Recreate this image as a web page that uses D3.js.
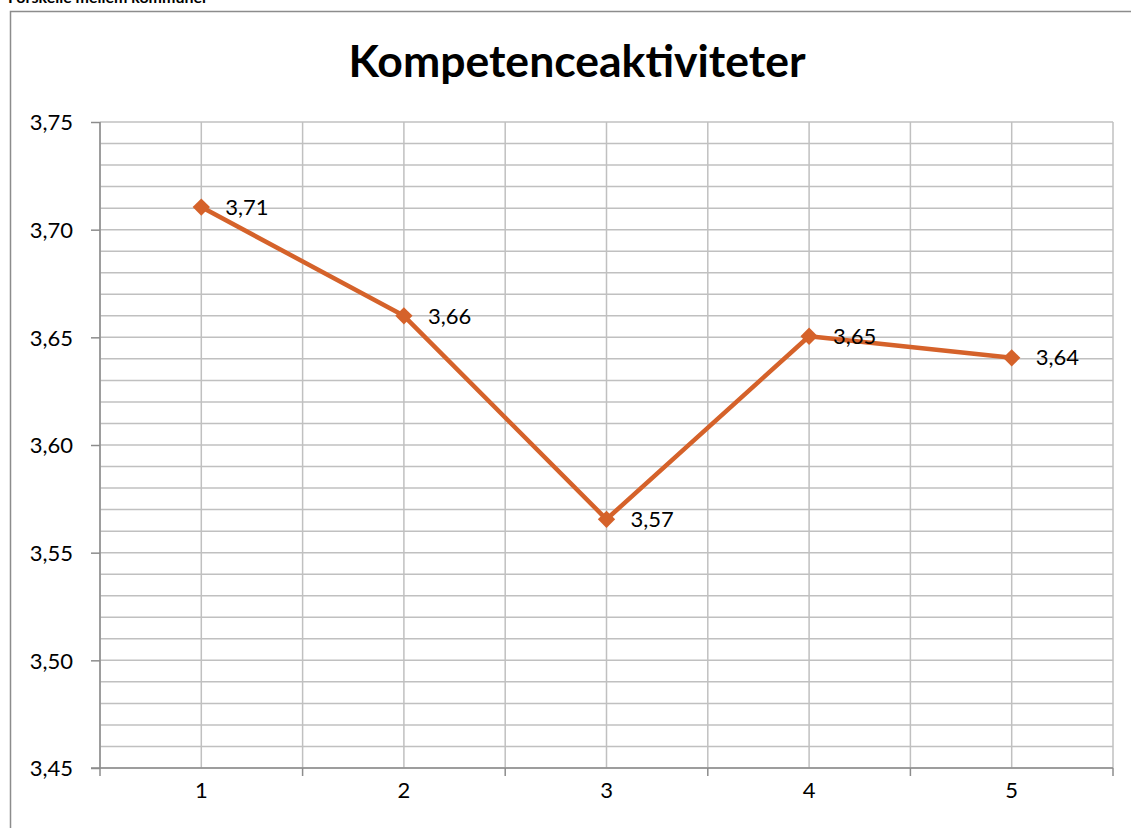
<!DOCTYPE html>
<html>
<head>
<meta charset="utf-8">
<script src="https://cdn.jsdelivr.net/npm/d3@7"></script>
<style>
  body { margin: 0; background: #fff; }
  text { font-family: Lato, "Open Sans", sans-serif; fill: #000; }
</style>
</head>
<body>
<div id="chart"></div>
<script>
// data
var categories = [1, 2, 3, 4, 5];
var values = [3.7105, 3.66, 3.5655, 3.6505, 3.6405];
var valueLabels = ["3,71", "3,66", "3,57", "3,65", "3,64"];
var yTicks = [3.45, 3.50, 3.55, 3.60, 3.65, 3.70, 3.75];

var w = 1131;
var h = 828;
var padLeft = 100, padRight = 1113, padTop = 122, padBottom = 768;

var svg = d3.select("#chart")
            .append("svg")
            .attr("width", w)
            .attr("height", h);

// chart frame (runs off the right and bottom edges)
svg.append("rect")
    .attr("x", 10.5)
    .attr("y", 11.5)
    .attr("width", 1140)
    .attr("height", 840)
    .attr("fill", "#fff")
    .attr("stroke", "#8c8c8c")
    .attr("stroke-width", 1.5);

// clipped heading above the chart
svg.append("text")
    .attr("x", 8)
    .attr("y", 3)
    .attr("font-size", 16)
    .attr("font-weight", "bold")
    .text("Forskelle mellem kommuner");

svg.append("text")
    .attr("x", 577)
    .attr("y", 77)
    .attr("text-anchor", "middle")
    .attr("font-size", 44.5)
    .attr("font-weight", "bold")
    .text("Kompetenceaktiviteter");

var xband = d3.scaleBand()
                .domain(categories)
                .range([padLeft, padRight]);

var yscale = d3.scaleLinear()
                .domain([3.45, 3.75])
                .range([padBottom, padTop]);

var xcenter = function(d) { return xband(d) + xband.bandwidth() / 2; };

// minor horizontal grid every 0.01
var minor = d3.range(0, 31).map(function(i) { return 3.45 + i * 0.01; });
svg.append("g")
    .selectAll("line")
    .data(minor)
    .enter()
    .append("line")
    .attr("x1", padLeft)
    .attr("x2", padRight)
    .attr("y1", function(d) { return yscale(d); })
    .attr("y2", function(d) { return yscale(d); })
    .attr("stroke", "#c0c0c0")
    .attr("stroke-width", 1.5);

// vertical grid at category centres and boundaries
var vlines = categories.map(xcenter)
                .concat(categories.map(function(d) { return xband(d); }))
                .concat([padRight]);
svg.append("g")
    .selectAll("line")
    .data(vlines)
    .enter()
    .append("line")
    .attr("x1", function(d) { return d; })
    .attr("x2", function(d) { return d; })
    .attr("y1", padTop)
    .attr("y2", padBottom)
    .attr("stroke", "#c0c0c0")
    .attr("stroke-width", 1.5);

var yaxis = d3.axisLeft(yscale)
                .tickValues(yTicks)
                .tickSize(9)
                .tickPadding(18)
                .tickFormat(function(d) { return d3.format(".2f")(d).replace(".", ","); });

var gy = svg.append("g")
    .attr("transform", "translate(" + padLeft + ",0)")
    .call(yaxis);
gy.select(".domain").remove();
gy.append("line")
    .attr("x1", 0).attr("x2", 0)
    .attr("y1", padTop).attr("y2", padBottom)
    .attr("stroke", "#8c8c8c")
    .attr("stroke-width", 1.5);

var xaxis = d3.axisBottom(xband).tickSize(0).tickPadding(10);
var gx = svg.append("g")
    .attr("transform", "translate(0," + padBottom + ")")
    .call(xaxis);
gx.select(".domain").remove();
gx.append("line")
    .attr("x1", padLeft - 9).attr("x2", padRight)
    .attr("y1", 0).attr("y2", 0)
    .attr("stroke", "#8c8c8c")
    .attr("stroke-width", 1.5);
gx.selectAll(".bound")
    .data(categories.map(function(d) { return xband(d); }).concat([padRight]))
    .enter()
    .append("line")
    .attr("class", "bound")
    .attr("x1", function(d) { return d; })
    .attr("x2", function(d) { return d; })
    .attr("y1", 0).attr("y2", 8)
    .attr("stroke", "#8c8c8c")
    .attr("stroke-width", 1.5);

[gx, gy].forEach(function(g) {
    g.attr("font-size", 22).attr("font-family", "Lato, 'Open Sans', sans-serif");
    g.selectAll(".tick line").attr("stroke", "#8c8c8c").attr("stroke-width", 1.5);
    g.selectAll(".tick text").attr("fill", "#000");
});
gy.selectAll(".tick text").attr("dy", "0.35em");
gx.selectAll(".tick text").attr("dy", "0.9em");

var line = d3.line()
                .x(function(d, i) { return xcenter(categories[i]); })
                .y(function(d) { return yscale(d); });

svg.append("path")
    .datum(values)
    .attr("d", line)
    .attr("fill", "none")
    .attr("stroke", "#d5622a")
    .attr("stroke-width", 4.5)
    .attr("stroke-linejoin", "round");

// square markers turned 45 degrees
svg.append("g")
    .selectAll("path")
    .data(values)
    .enter()
    .append("path")
    .attr("d", d3.symbol().type(d3.symbolSquare).size(150))
    .attr("transform", function(d, i) {
        return "translate(" + xcenter(categories[i]) + "," + yscale(d) + ") rotate(45)";
    })
    .attr("fill", "#d5622a");

svg.append("g")
    .selectAll("text")
    .data(values)
    .enter()
    .append("text")
    .attr("x", function(d, i) { return xcenter(categories[i]) + 24; })
    .attr("y", function(d) { return yscale(d); })
    .attr("dy", "0.35em")
    .attr("font-size", 22)
    .text(function(d, i) { return valueLabels[i]; });
</script>
</body>
</html>
